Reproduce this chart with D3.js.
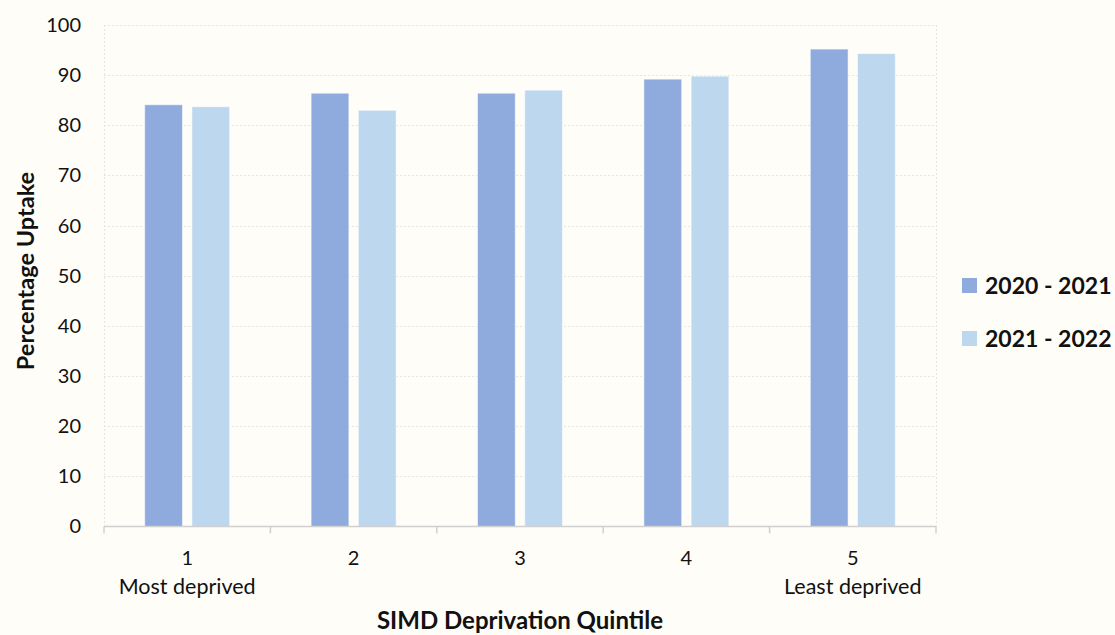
<!DOCTYPE html>
<html>
<head>
<meta charset="utf-8">
<script src="https://cdn.jsdelivr.net/npm/d3@7"></script>
<style>
  html, body { margin: 0; padding: 0; background: #FFFDF8; }
  svg { display: block; }
  text { font-family: Lato, "Open Sans", sans-serif; fill: #111; }
</style>
</head>
<body>
<svg id="chart" width="1115" height="635"></svg>
<script>
// Uptake by SIMD deprivation quintile, two years side by side
const quintiles = ["1", "2", "3", "4", "5"];
const quintileNotes = ["Most deprived", "", "", "", "Least deprived"];
const seriesNames = ["2020 - 2021", "2021 - 2022"];
const uptake2020 = [84.1, 86.4, 86.4, 89.2, 95.2];
const uptake2021 = [83.7, 83.0, 87.0, 89.8, 94.3];
const yTicks = [0, 10, 20, 30, 40, 50, 60, 70, 80, 90, 100];
const seriesColors = ["#8FAADC", "#BDD7EE"];

const svg = d3.select("#chart");
const plot = { left: 104, right: 936, top: 25, bottom: 526.5 };

const x0 = d3.scaleBand().domain(quintiles).range([plot.left, plot.right]).padding(0);
const groupWidth = 85;
const x1 = d3.scaleBand().domain(seriesNames).range([0, groupWidth]).paddingInner(0.2);
const y = d3.scaleLinear().domain([0, 100]).range([plot.bottom, plot.top]);

// Dotted gridlines and plot frame
const grid = svg.append("g");
grid.selectAll("line.h").data(yTicks.filter(d => d > 0)).join("line")
  .attr("x1", plot.left).attr("x2", plot.right)
  .attr("y1", d => Math.round(y(d)) + 0.5).attr("y2", d => Math.round(y(d)) + 0.5)
  .attr("stroke", "#E6E6E6").attr("stroke-width", 1).attr("stroke-dasharray", "2,2");
[plot.left, plot.right].forEach(xv => {
  grid.append("line")
    .attr("x1", xv + 0.5).attr("x2", xv + 0.5)
    .attr("y1", plot.top).attr("y2", plot.bottom)
    .attr("stroke", "#E6E6E6").attr("stroke-width", 1).attr("stroke-dasharray", "2,2");
});

// Bars
const rows = quintiles.map((q, i) => ({ q, values: [uptake2020[i], uptake2021[i]] }));
const groups = svg.append("g").selectAll("g").data(rows).join("g")
  .attr("transform", d => `translate(${x0(d.q) + (x0.bandwidth() - groupWidth) / 2},0)`);
groups.selectAll("rect").data(d => d.values.map((v, j) => ({ s: seriesNames[j], v, j }))).join("rect")
  .attr("x", d => x1(d.s))
  .attr("width", x1.bandwidth())
  .attr("y", d => y(d.v))
  .attr("height", d => y(0) - y(d.v))
  .attr("fill", d => seriesColors[d.j])
  .attr("stroke", "rgba(255,255,255,0.55)").attr("stroke-width", 1);

// Y axis labels
const yAxis = svg.append("g")
  .attr("transform", `translate(${plot.left},0)`)
  .call(d3.axisLeft(y).tickValues(yTicks).tickSize(0).tickPadding(23));
yAxis.select(".domain").remove();
yAxis.selectAll("text").style("font-size", "20px").style("font-family", "Lato, sans-serif").attr("fill", "#111");

// X axis with ticks at category boundaries
const axisY = plot.bottom;
const xAxisG = svg.append("g");
xAxisG.append("line")
  .attr("x1", plot.left).attr("x2", plot.right)
  .attr("y1", axisY).attr("y2", axisY)
  .attr("stroke", "#D0D0D0").attr("stroke-width", 1.5);
const bounds = quintiles.map(q => x0(q)).concat([plot.right]);
xAxisG.selectAll("line.tick").data(bounds).join("line")
  .attr("class", "tick")
  .attr("x1", d => d).attr("x2", d => d)
  .attr("y1", axisY).attr("y2", axisY + 7)
  .attr("stroke", "#D0D0D0").attr("stroke-width", 1.5);
xAxisG.selectAll("text.q").data(quintiles).join("text")
  .attr("class", "q")
  .attr("x", d => x0(d) + x0.bandwidth() / 2)
  .attr("y", 565)
  .attr("text-anchor", "middle")
  .style("font-size", "20px")
  .text(d => d);
xAxisG.selectAll("text.note").data(quintiles).join("text")
  .attr("class", "note")
  .attr("x", d => x0(d) + x0.bandwidth() / 2)
  .attr("y", 594)
  .attr("text-anchor", "middle")
  .style("font-size", "21.5px")
  .text((d, i) => quintileNotes[i]);

// Axis titles
svg.append("text")
  .attr("x", (plot.left + plot.right) / 2)
  .attr("y", 629)
  .attr("text-anchor", "middle")
  .style("font-size", "24px").style("font-weight", "bold")
  .text("SIMD Deprivation Quintile");
svg.append("text")
  .attr("transform", `translate(34,271) rotate(-90)`)
  .attr("text-anchor", "middle")
  .style("font-size", "23.5px").style("font-weight", "bold")
  .text("Percentage Uptake");

// Legend
const legend = svg.append("g").attr("transform", "translate(962,278)");
const li = legend.selectAll("g").data(seriesNames).join("g")
  .attr("transform", (d, i) => `translate(0,${i * 53})`);
li.append("rect").attr("width", 15).attr("height", 15).attr("fill", (d, i) => seriesColors[i]);
li.append("text").attr("x", 23).attr("y", 16)
  .style("font-size", "23px").style("font-weight", "bold")
  .text(d => d);
</script>
</body>
</html>
